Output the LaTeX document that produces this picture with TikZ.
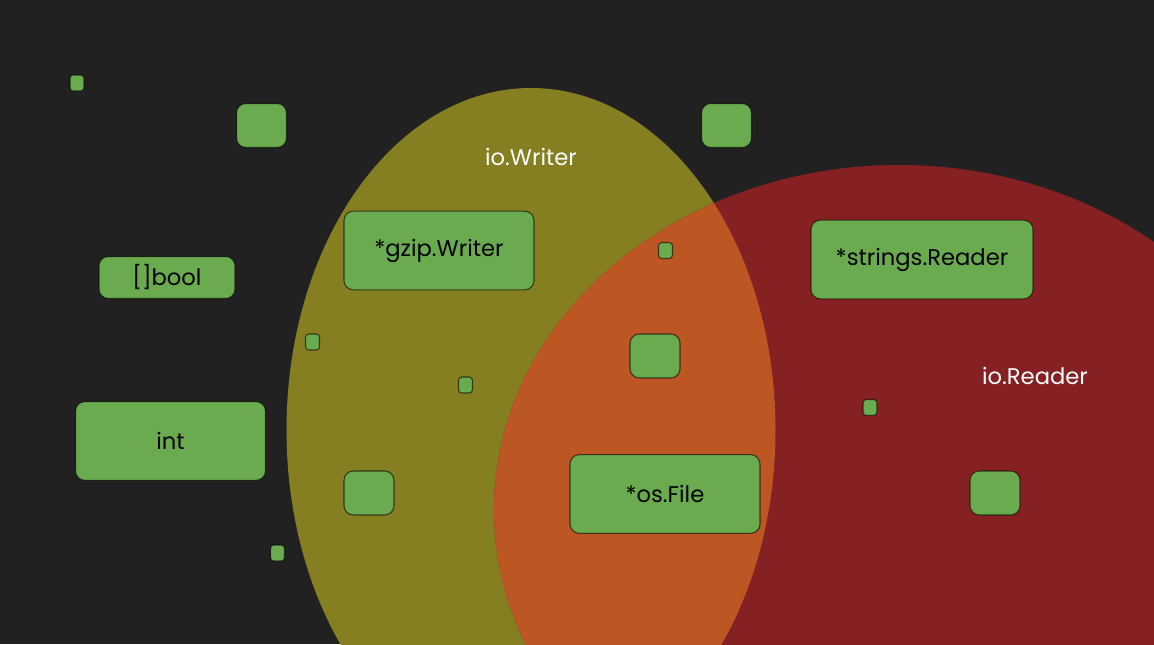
\documentclass[tikz,border=0pt]{standalone}
\usepackage{fontspec}
\setmainfont{Poppins}
\definecolor{bgdark}{HTML}{212121}
\definecolor{writerfill}{HTML}{857F21}
\definecolor{readerfill}{HTML}{862123}
\definecolor{bothfill}{HTML}{BC5723}
\definecolor{valfill}{HTML}{6AAB4F}
\begin{document}
\begin{tikzpicture}[x=0.75pt,y=-0.75pt,inner sep=0pt,
  val/.style={draw=black,draw opacity=0.6,fill=valfill,line width=0.8pt,
    rounded corners=7pt,font=\fontsize{17}{20}\selectfont},
  big/.style={val,minimum width=142.5pt,minimum height=59pt},
  mid/.style={val,minimum width=37.5pt,minimum height=33pt},
  tiny/.style={val,rounded corners=2.5pt,minimum width=10.5pt,minimum height=12pt},
  setname/.style={text=white,font=\fontsize{17}{20}\selectfont}]
\fill[bgdark] (0,0) rectangle (1154,644);
\clip (0,0) rectangle (1154,644);
% the two interfaces and their overlap
\fill[writerfill] (531,430) ellipse [x radius=244.5,y radius=342];
\fill[readerfill] (899,510) ellipse [x radius=405,y radius=345];
\begin{scope}
\clip (531,430) ellipse [x radius=244.5,y radius=342];
\fill[bothfill] (899,510) ellipse [x radius=405,y radius=345];
\end{scope}
\node[setname] (writer) at (531,157) {io.Writer};
\node[setname] (reader) at (1035,376) {io.Reader};
% named types
\node[big] (gzipw) at (439,250.5) {*gzip.Writer};
\node[big,minimum width=166.5pt] (strr) at (922,259.5) {*strings.Reader};
\node[big] (osfile) at (665,494) {*os.File};
\node[big] (int) at (170.5,441) {int};
\node[val,minimum width=102pt,minimum height=31.5pt] (bools) at (167,277.5) {[]bool};
% anonymous values
\foreach \n/\x/\y in {m1/261.5/125.5,m2/726.5/125.5,m3/655/356,m4/369/493,m5/995/493}
  \node[mid] (\n) at (\x,\y) {};
\foreach \n/\x/\y in {s1/77/83,s2/665.5/250.5,s3/312.5/342,s4/465.5/385,s5/870/407.5,s6/277.5/553}
  \node[tiny] (\n) at (\x,\y) {};
\end{tikzpicture}
\end{document}
